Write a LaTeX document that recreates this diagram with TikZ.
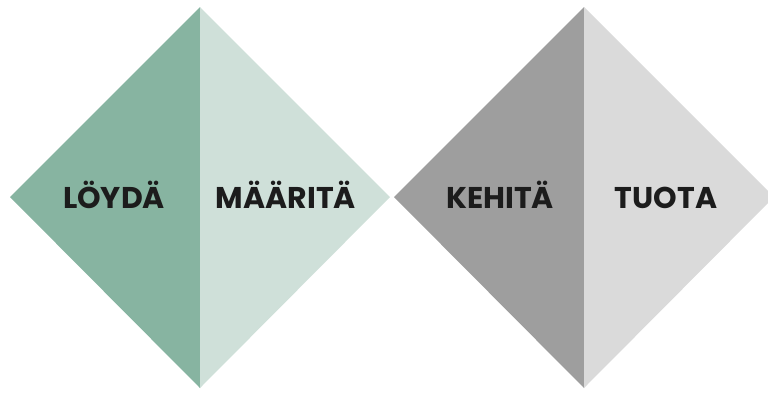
\documentclass[tikz,border=0pt]{standalone}
\usepackage{fontspec}
\setmainfont{Poppins}
\usepackage{tikz}
\usetikzlibrary{positioning}
\definecolor{greendark}{HTML}{87B4A1}
\definecolor{greenlight}{HTML}{CFE0D9}
\definecolor{greydark}{HTML}{9E9E9E}
\definecolor{greylight}{HTML}{DADADA}
\definecolor{ink}{HTML}{1C1C1C}

\begin{document}
\begin{tikzpicture}[
    x=1pt, y=-1pt,
    half/.style={draw=none},
    phase/.style={text=ink, font=\fontsize{30}{30}\selectfont\bfseries, inner sep=0pt, anchor=base}
]
    \useasboundingbox (0,0) rectangle (768,392);
    \clip (0,0) rectangle (768,392);

    % Left diamond (green)
    \fill[half, greendark] (200,7) -- (10,197) -- (200,388) -- cycle;
    \fill[half, greenlight] (200,7) -- (390,197) -- (200,388) -- cycle;

    % Right diamond (grey)
    \fill[half, greydark] (584,7) -- (394,197) -- (584,388) -- cycle;
    \fill[half, greylight] (584,7) -- (774,197) -- (584,388) -- cycle;

    % Labels
    \node[phase] (loyda) at (114,208) {LÖYDÄ};
    \node[phase] (maarita) at (286,208) {MÄÄRITÄ};
    \node[phase] (kehita) at (500,208) {KEHITÄ};
    \node[phase] (tuota) at (666,208) {TUOTA};
\end{tikzpicture}
\end{document}
